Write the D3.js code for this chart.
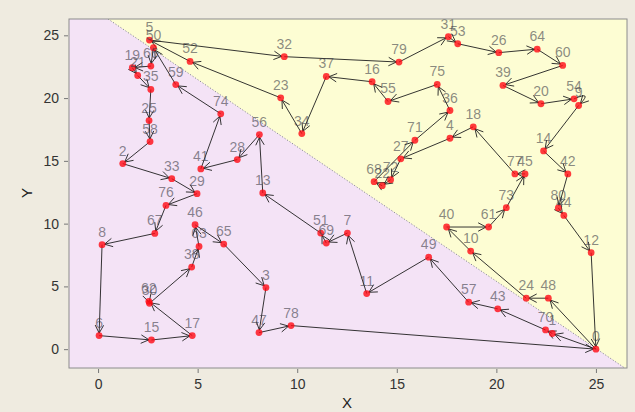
<!DOCTYPE html>
<html>
<head>
<meta charset="utf-8">
<script src="https://cdn.jsdelivr.net/npm/d3@7"></script>
<style>
	body { margin: 0; background: #efebe0; }
	svg { display: block; }
</style>
</head>
<body>
<div id="wrapper"></div>
<script>
// node coordinates, indexed by node id (0 is the depot)
const nodeX = [25.00, 22.81, 1.24, 8.43, 17.67, 2.58, 0.05, 12.52, 0.20, 24.13,
	18.71, 13.49, 24.76, 8.27, 22.37, 2.68, 13.76, 4.73, 18.84, 1.72,
	22.24, 1.99, 14.27, 9.17, 21.50, 2.56, 20.12, 15.20, 6.99, 4.97,
	2.58, 17.59, 9.35, 3.70, 10.23, 2.65, 17.67, 11.46, 4.70, 20.33,
	17.50, 5.16, 23.59, 20.07, 23.39, 21.44, 4.87, 8.08, 22.61, 16.60,
	2.78, 11.18, 4.62, 18.06, 23.90, 14.56, 8.10, 18.61, 2.61, 3.90,
	23.33, 19.61, 2.55, 5.07, 22.05, 6.31, 2.65, 2.85, 13.86, 11.46,
	22.47, 15.91, 14.69, 20.50, 6.16, 17.03, 3.41, 20.93, 9.69, 15.11,
	23.11];
const nodeY = [0.00, 1.25, 14.78, 4.91, 16.80, 24.62, 1.08, 9.25, 8.32, 19.41,
	7.81, 4.43, 7.68, 12.44, 15.79, 0.73, 21.30, 1.08, 17.71, 22.42,
	19.55, 21.80, 13.02, 20.02, 4.06, 18.21, 23.62, 15.16, 15.10, 12.39,
	3.65, 24.89, 23.30, 13.58, 17.17, 20.69, 19.01, 21.72, 6.54, 21.01,
	9.73, 14.36, 13.96, 3.21, 10.65, 13.96, 9.91, 1.32, 4.06, 7.33,
	24.01, 9.25, 22.92, 24.33, 19.94, 19.73, 17.09, 3.74, 16.54, 21.08,
	22.60, 9.73, 3.81, 8.18, 23.90, 8.37, 22.55, 9.22, 13.34, 8.45,
	1.53, 16.64, 13.50, 11.27, 18.75, 21.09, 11.45, 13.96, 1.88, 22.87,
	11.25];

// the two routes, each leaving and returning to the depot
const routeA = [0, 1, 70, 43, 57, 49, 11, 7, 69, 51, 13, 56, 28, 41, 74, 59, 50, 66,
	19, 21, 35, 25, 58, 2, 33, 29, 76, 67, 8, 6, 15, 17, 62, 30, 38, 63, 46, 65,
	3, 47, 78, 0];
const routeB = [0, 48, 24, 10, 40, 61, 73, 45, 77, 18, 4, 27, 72, 22, 68, 71, 36,
	75, 55, 16, 37, 34, 23, 52, 5, 32, 79, 31, 53, 26, 64, 60, 39, 20, 54, 9, 14,
	42, 80, 44, 12, 0];
const curvedEdges = [[54, 9]];

// region boundary (dotted line)
const boundaryX = [0.5, 26.4];
const boundaryY = [26.3, -1.45];

const xTicks = [0, 5, 10, 15, 20, 25];
const yTicks = [0, 5, 10, 15, 20, 25];

const width = 635;
const height = 412;
const panel = { left: 69, right: 627, top: 19, bottom: 368 };
const font = "'Liberation Sans', Arial, sans-serif";

const svg = d3
	.select("#wrapper")
	.append("svg")
	.attr("width", width)
	.attr("height", height);

svg.append("rect")
	.attr("width", width)
	.attr("height", height)
	.attr("fill", "#efebe0");

const xScale = d3.scaleLinear().domain([-1.46, 26.56]).range([panel.left, panel.right]);
const yScale = d3.scaleLinear().domain([-1.5, 26.3]).range([panel.bottom, panel.top]);

// clip for panel
svg.append("clipPath")
	.attr("id", "panelClip")
	.append("rect")
	.attr("x", panel.left)
	.attr("y", panel.top)
	.attr("width", panel.right - panel.left)
	.attr("height", panel.bottom - panel.top);

const plot = svg.append("g").attr("clip-path", "url(#panelClip)");

plot.append("rect")
	.attr("x", panel.left)
	.attr("y", panel.top)
	.attr("width", panel.right - panel.left)
	.attr("height", panel.bottom - panel.top)
	.attr("fill", "#f4e3f6");

// yellow region, upper right of the boundary
const bx0 = xScale(boundaryX[0]), by0 = yScale(boundaryY[0]);
const bx1 = xScale(boundaryX[1]), by1 = yScale(boundaryY[1]);
plot.append("path")
	.attr("d", `M${bx0},${by0} L${bx1},${by1} L${panel.right + 5},${panel.bottom + 5} L${panel.right + 5},${panel.top - 5} L${bx0},${panel.top - 5} Z`)
	.attr("fill", "#fdfdd3");

plot.append("line")
	.attr("x1", bx0).attr("y1", by0)
	.attr("x2", bx1).attr("y2", by1)
	.attr("stroke", "#8a8a98")
	.attr("stroke-width", 1)
	.attr("stroke-dasharray", "1.2,1.8");

// edges with open arrowheads
const headLen = 9;
const headAngle = (28 * Math.PI) / 180;

function arrowHead(tx, ty, ang) {
	const a1 = ang + Math.PI - headAngle;
	const a2 = ang + Math.PI + headAngle;
	return `M${tx + headLen * Math.cos(a1)},${ty + headLen * Math.sin(a1)} L${tx},${ty} L${tx + headLen * Math.cos(a2)},${ty + headLen * Math.sin(a2)}`;
}

const isCurved = (a, b) => curvedEdges.some((e) => e[0] === a && e[1] === b);

const edges = [];
for (const route of [routeA, routeB]) {
	for (let i = 0; i < route.length - 1; i++) {
		edges.push([route[i], route[i + 1]]);
	}
}

const edgeG = plot.append("g")
	.attr("fill", "none")
	.attr("stroke", "#1e1e1e")
	.attr("stroke-width", 0.9);

edges.forEach(([a, b]) => {
	const x1 = xScale(nodeX[a]), y1 = yScale(nodeY[a]);
	const x2 = xScale(nodeX[b]), y2 = yScale(nodeY[b]);
	if (isCurved(a, b)) {
		const cx = Math.max(x1, x2) + 14;
		const cy = Math.min(y1, y2) - 8;
		const ang = Math.atan2(y2 - cy, x2 - cx);
		const tx = x2 - 2.5 * Math.cos(ang), ty = y2 - 2.5 * Math.sin(ang);
		edgeG.append("path").attr("d", `M${x1},${y1} Q${cx},${cy} ${tx},${ty}`);
		edgeG.append("path").attr("d", arrowHead(tx, ty, ang));
		return;
	}
	const ang = Math.atan2(y2 - y1, x2 - x1);
	const len = Math.hypot(x2 - x1, y2 - y1);
	const cut = Math.min(2.5, len / 2);
	const tx = x2 - cut * Math.cos(ang), ty = y2 - cut * Math.sin(ang);
	edgeG.append("path").attr("d", `M${x1},${y1} L${tx},${ty}`);
	edgeG.append("path").attr("d", arrowHead(tx, ty, ang));
});

// points
const ids = d3.range(nodeX.length);
plot.append("g")
	.selectAll("circle")
	.data(ids)
	.join("circle")
	.attr("cx", (d) => xScale(nodeX[d]))
	.attr("cy", (d) => yScale(nodeY[d]))
	.attr("r", 3.4)
	.attr("fill", "rgba(255, 10, 20, 0.8)");

// labels
plot.append("g")
	.selectAll("text")
	.data(ids)
	.join("text")
	.attr("x", (d) => xScale(nodeX[d]))
	.attr("y", (d) => yScale(nodeY[d]) - 8)
	.attr("text-anchor", "middle")
	.attr("font-family", font)
	.attr("font-size", 14)
	.attr("fill", "rgba(60, 60, 70, 0.6)")
	.text((d) => d);

// panel border
svg.append("rect")
	.attr("x", panel.left)
	.attr("y", panel.top)
	.attr("width", panel.right - panel.left)
	.attr("height", panel.bottom - panel.top)
	.attr("fill", "none")
	.attr("stroke", "#8c8c8c")
	.attr("stroke-width", 1);

// axes
const xAxis = svg.append("g")
	.attr("transform", `translate(0, ${panel.bottom + 1})`)
	.call(d3.axisBottom(xScale).tickValues(xTicks).tickSize(4).tickPadding(6));
const yAxis = svg.append("g")
	.attr("transform", `translate(${panel.left - 1}, 0)`)
	.call(d3.axisLeft(yScale).tickValues(yTicks).tickSize(4).tickPadding(5));

for (const ax of [xAxis, yAxis]) {
	ax.select(".domain").remove();
	ax.selectAll(".tick line").attr("stroke", "#777");
	ax.selectAll(".tick text")
		.attr("fill", "#333")
		.attr("font-size", 14)
		.attr("font-family", font);
}

svg.append("text")
	.attr("x", 347)
	.attr("y", 408)
	.attr("text-anchor", "middle")
	.attr("font-family", font)
	.attr("font-size", 15)
	.attr("fill", "#222")
	.text("X");

svg.append("text")
	.attr("transform", "translate(32, 193) rotate(-90)")
	.attr("text-anchor", "middle")
	.attr("font-family", font)
	.attr("font-size", 15)
	.attr("fill", "#222")
	.text("Y");
</script>
</body>
</html>
